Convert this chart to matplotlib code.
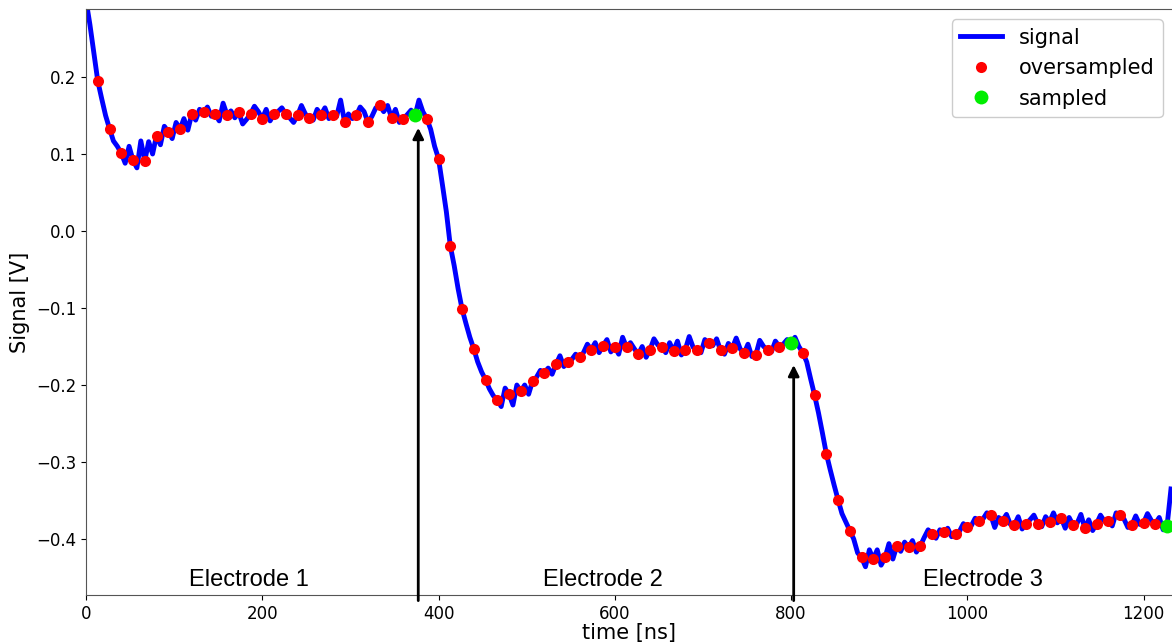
import matplotlib.pyplot as plt
import numpy as np

# digitiser trace, one sample every 40/9 ns (three per oversampling step)
sample_step_ns = 40 / 9
signal = [
    0.300, 0.268, 0.232, 0.195, 0.172, 0.150, 0.133, 0.117, 0.110, 0.101,
    0.088, 0.110, 0.092, 0.082, 0.117, 0.091, 0.116, 0.100, 0.124, 0.112,
    0.136, 0.129, 0.120, 0.141, 0.132, 0.146, 0.131, 0.152, 0.144, 0.158,
    0.154, 0.161, 0.149, 0.152, 0.143, 0.166, 0.151, 0.156, 0.147, 0.154,
    0.139, 0.145, 0.152, 0.162, 0.155, 0.146, 0.158, 0.143, 0.152, 0.155,
    0.160, 0.152, 0.147, 0.141, 0.150, 0.163, 0.152, 0.147, 0.144, 0.158,
    0.151, 0.160, 0.146, 0.150, 0.149, 0.170, 0.142, 0.152, 0.146, 0.150,
    0.161, 0.155, 0.141, 0.149, 0.160, 0.163, 0.155, 0.163, 0.147, 0.158,
    0.141, 0.146, 0.151, 0.157, 0.150, 0.170, 0.155, 0.146, 0.132, 0.110,
    0.094, 0.060, 0.025, -0.019, -0.045, -0.075, -0.101, -0.120, -0.138, -0.153,
    -0.170, -0.183, -0.193, -0.205, -0.214, -0.219, -0.228, -0.204, -0.212, -0.226,
    -0.200, -0.208, -0.200, -0.212, -0.195, -0.190, -0.181, -0.184, -0.178, -0.186,
    -0.173, -0.162, -0.176, -0.170, -0.167, -0.160, -0.164, -0.158, -0.147, -0.154,
    -0.145, -0.158, -0.149, -0.141, -0.157, -0.150, -0.160, -0.138, -0.151, -0.145,
    -0.153, -0.160, -0.150, -0.164, -0.154, -0.140, -0.148, -0.150, -0.158, -0.145,
    -0.156, -0.143, -0.161, -0.154, -0.137, -0.151, -0.155, -0.158, -0.141, -0.146,
    -0.149, -0.140, -0.155, -0.160, -0.146, -0.152, -0.139, -0.153, -0.159, -0.147,
    -0.163, -0.161, -0.142, -0.150, -0.154, -0.157, -0.143, -0.150, -0.147, -0.141,
    -0.146, -0.138, -0.150, -0.158, -0.170, -0.192, -0.213, -0.236, -0.262, -0.289,
    -0.310, -0.330, -0.349, -0.367, -0.378, -0.389, -0.400, -0.418, -0.424, -0.436,
    -0.414, -0.426, -0.414, -0.434, -0.424, -0.406, -0.426, -0.409, -0.416, -0.404,
    -0.411, -0.402, -0.417, -0.409, -0.398, -0.388, -0.393, -0.399, -0.388, -0.391,
    -0.386, -0.397, -0.394, -0.390, -0.380, -0.385, -0.383, -0.373, -0.376, -0.374,
    -0.366, -0.369, -0.385, -0.372, -0.376, -0.368, -0.381, -0.382, -0.371, -0.387,
    -0.380, -0.375, -0.369, -0.380, -0.384, -0.371, -0.378, -0.366, -0.379, -0.373,
    -0.386, -0.372, -0.382, -0.380, -0.368, -0.386, -0.375, -0.389, -0.380, -0.369,
    -0.377, -0.377, -0.383, -0.366, -0.369, -0.374, -0.385, -0.382, -0.370, -0.381,
    -0.379, -0.367, -0.376, -0.380, -0.372, -0.388, -0.383, -0.335,
]

# every third sample is an oversampled point, every 96th a sampled one
oversample_every = 3
sample_every = 96
first_sample = 84

arrow_times = [377, 803]
arrow_tips = [0.134, -0.174]

electrode_labels = ["Electrode 1", "Electrode 2", "Electrode 3"]
electrode_x = [185, 587, 1018]
electrode_y = -0.453

signal = np.array(signal)
t = np.arange(len(signal)) * sample_step_ns
over_idx = np.arange(oversample_every, len(signal) - 1, oversample_every)
samp_idx = np.arange(first_sample, len(signal), sample_every)

fig = plt.figure(figsize=(11.72, 6.44), dpi=100)
ax = fig.add_axes([86 / 1172, 49 / 644, 1087 / 1172, 586 / 644])

ax.plot(t, signal, color="#0000ff", lw=3.5, label="signal", zorder=2)
ax.plot(t[over_idx], signal[over_idx], "o", color="#ff0000", ms=8,
        mec="none", label="oversampled", zorder=3)
ax.plot(t[samp_idx], signal[samp_idx], "o", color="#00ee00", ms=10,
        mec="none", label="sampled", zorder=4)

for xa, tip in zip(arrow_times, arrow_tips):
    ax.annotate("", xy=(xa, tip), xytext=(xa, -0.48),
                arrowprops=dict(arrowstyle="-|>", color="black", lw=2,
                                mutation_scale=16, shrinkA=0, shrinkB=0),
                annotation_clip=False, zorder=5)

for label, xl in zip(electrode_labels, electrode_x):
    ax.text(xl, electrode_y, label, ha="center", va="center",
            fontsize=17, family="Liberation Sans")

ax.set_xlim(0, 1233.4)
ax.set_ylim(-0.4727, 0.2883)
ax.set_xticks([0, 200, 400, 600, 800, 1000, 1200])
ax.set_yticks([-0.4, -0.3, -0.2, -0.1, 0.0, 0.1, 0.2])
ax.tick_params(labelsize=12)
ax.set_xlabel("time [ns]", fontsize=15, labelpad=0)
ax.set_ylabel("Signal [V]", fontsize=15)
for side in ["top", "left", "bottom"]:
    ax.spines[side].set_color("#555555")

ax.legend(loc="upper right", fontsize=15, framealpha=1)

fig.savefig("out.png", dpi=100)
